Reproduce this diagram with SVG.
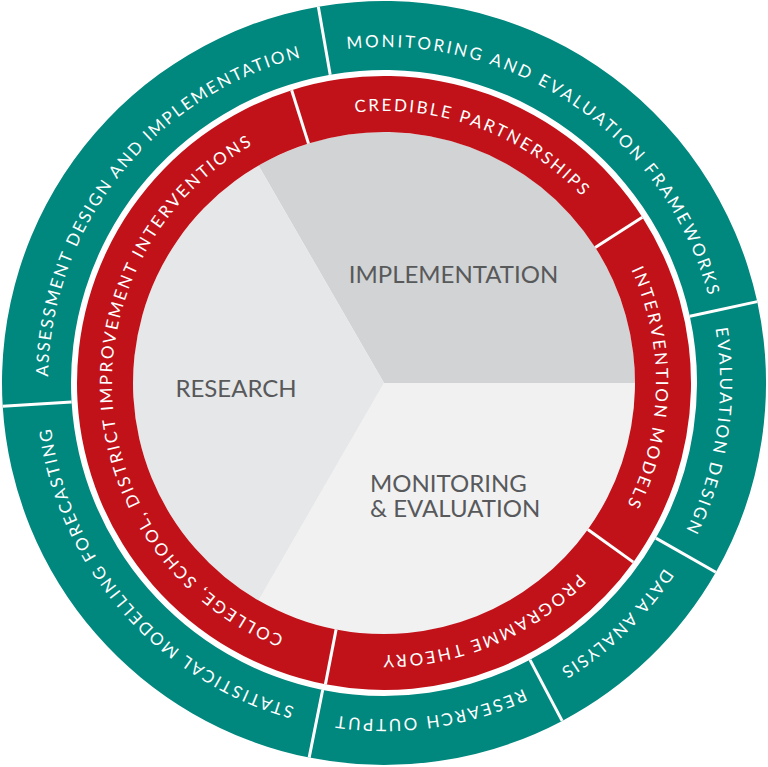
<svg xmlns="http://www.w3.org/2000/svg" width="768" height="767" viewBox="0 0 768 767">
<style>
.teal{fill:#00877e}
.red{fill:#c1121a}
.div{stroke:#ffffff;stroke-width:3;fill:none}
.ring{font-family:Lato,"Open Sans","DejaVu Sans",sans-serif;font-size:17px;fill:#ffffff}
.core{font-family:Lato,"Open Sans","DejaVu Sans",sans-serif;font-size:24px;fill:#58595b}
</style>
<defs>
<path id="t1" d="M124.74,169.28 A336,336 0 0 1 676.44,548.45"/>
<path id="t2" d="M462.44,56.28 A336,336 0 0 1 363.49,718.37"/>
<path id="t3" d="M645.12,171.55 A336,336 0 0 1 163.56,636.58"/>
<path id="t4" d="M719.54,365.41 A336,336 0 0 1 56.61,458.58"/>
<path id="t5" d="M581.50,654.83 A336,336 0 0 1 142.30,149.59"/>
<path id="t6" d="M152.71,626.72 A336,336 0 0 1 569.45,102.81"/>
<path id="r1" d="M138.50,265.90 A272,272 0 0 1 646.11,455.69"/>
<path id="r2" d="M413.38,112.59 A272,272 0 0 1 402.03,654.40"/>
<path id="r3" d="M643.41,301.21 A272,272 0 0 1 142.73,508.60"/>
<path id="r4" d="M376.88,654.91 A272,272 0 0 1 343.80,113.99"/>
</defs>
<rect width="768" height="767" fill="#ffffff"/>

<g id="implementation">
<path d="M384,383 L258.5,165.6 A251,251 0 0 1 635,383 Z" fill="#d1d3d4"/>
<text class="core" x="453.5" y="283" text-anchor="middle">IMPLEMENTATION</text>
</g>
<g id="monitoring-evaluation">
<path d="M384,383 L635,383 A251,251 0 0 1 258.5,600.4 Z" fill="#f1f1f2"/>
<text class="core" x="370" y="492">MONITORING</text>
<text class="core" x="370" y="517">&amp; EVALUATION</text>
</g>
<g id="research">
<path d="M384,383 L258.5,600.4 A251,251 0 0 1 258.5,165.6 Z" fill="#e6e7e8"/>
<text class="core" x="236" y="397" text-anchor="middle">RESEARCH</text>
</g>

<g id="credible-partnerships">
<path class="red" d="M291.68,90.21 A307,307 0 0 1 642.34,217.15 L595.22,247.40 A251,251 0 0 0 308.52,143.62 Z"/>
<text class="ring" text-anchor="middle" letter-spacing="2.3"><textPath href="#r1" startOffset="50%">CREDIBLE PARTNERSHIPS</textPath></text>
</g>
<g id="intervention-models">
<path class="red" d="M642.34,217.15 A307,307 0 0 1 633.31,562.15 L587.83,529.47 A251,251 0 0 0 595.22,247.40 Z"/>
<text class="ring" text-anchor="middle" letter-spacing="2.5"><textPath href="#r2" startOffset="50%">INTERVENTION MODELS</textPath></text>
</g>
<g id="programme-theory">
<path class="red" d="M633.31,562.15 A307,307 0 0 1 325.42,684.36 L336.11,629.39 A251,251 0 0 0 587.83,529.47 Z"/>
<text class="ring" text-anchor="middle" letter-spacing="2.4"><textPath href="#r3" startOffset="50%">PROGRAMME THEORY</textPath></text>
</g>
<g id="improvement-interventions">
<path class="red" d="M325.42,684.36 A307,307 0 0 1 291.68,90.21 L308.52,143.62 A251,251 0 0 0 336.11,629.39 Z"/>
<text class="ring" text-anchor="middle" letter-spacing="2.3"><textPath href="#r4" startOffset="50%">COLLEGE, SCHOOL, DISTRICT IMPROVEMENT INTERVENTIONS</textPath></text>
</g>

<g id="me-frameworks">
<path class="teal" d="M318.33,6.69 A382,382 0 0 1 757.23,301.62 L689.82,316.32 A313,313 0 0 0 330.20,74.66 Z"/>
<text class="ring" text-anchor="middle" letter-spacing="2.6"><textPath href="#t1" startOffset="50%">MONITORING AND EVALUATION FRAMEWORKS</textPath></text>
</g>
<g id="evaluation-design">
<path class="teal" d="M757.23,301.62 A382,382 0 0 1 715.82,572.27 L655.88,538.08 A313,313 0 0 0 689.82,316.32 Z"/>
<text class="ring" text-anchor="middle" letter-spacing="2.3"><textPath href="#t2" startOffset="50%">EVALUATION DESIGN</textPath></text>
</g>
<g id="data-analysis">
<path class="teal" d="M715.82,572.27 A382,382 0 0 1 562.16,720.91 L529.98,659.87 A313,313 0 0 0 655.88,538.08 Z"/>
<text class="ring" text-anchor="middle" letter-spacing="1.9"><textPath href="#t3" startOffset="50%">DATA ANALYSIS</textPath></text>
</g>
<g id="research-output">
<path class="teal" d="M562.16,720.91 A382,382 0 0 1 309.15,757.59 L322.67,689.93 A313,313 0 0 0 529.98,659.87 Z"/>
<text class="ring" text-anchor="middle" letter-spacing="2.3"><textPath href="#t4" startOffset="50%">RESEARCH OUTPUT</textPath></text>
</g>
<g id="statistical-modelling">
<path class="teal" d="M309.15,757.59 A382,382 0 0 1 2.71,406.32 L71.59,402.11 A313,313 0 0 0 322.67,689.93 Z"/>
<text class="ring" text-anchor="middle" letter-spacing="2.15"><textPath href="#t5" startOffset="50%">STATISTICAL MODELLING FORECASTING</textPath></text>
</g>
<g id="assessment-design">
<path class="teal" d="M2.71,406.32 A382,382 0 0 1 318.33,6.69 L330.20,74.66 A313,313 0 0 0 71.59,402.11 Z"/>
<text class="ring" text-anchor="middle" letter-spacing="2"><textPath href="#t6" startOffset="50%">ASSESSMENT DESIGN AND IMPLEMENTATION</textPath></text>
</g>

<g id="dividers">
<line class="div" x1="308.52" y1="143.62" x2="291.68" y2="90.21"/>
<line class="div" x1="595.22" y1="247.40" x2="642.34" y2="217.15"/>
<line class="div" x1="587.83" y1="529.47" x2="633.31" y2="562.15"/>
<line class="div" x1="336.11" y1="629.39" x2="325.42" y2="684.36"/>
<line class="div" x1="330.20" y1="74.66" x2="318.33" y2="6.69"/>
<line class="div" x1="689.82" y1="316.32" x2="757.23" y2="301.62"/>
<line class="div" x1="655.88" y1="538.08" x2="715.82" y2="572.27"/>
<line class="div" x1="529.98" y1="659.87" x2="562.16" y2="720.91"/>
<line class="div" x1="322.67" y1="689.93" x2="309.15" y2="757.59"/>
<line class="div" x1="71.59" y1="402.11" x2="2.71" y2="406.32"/>
</g>
</svg>
